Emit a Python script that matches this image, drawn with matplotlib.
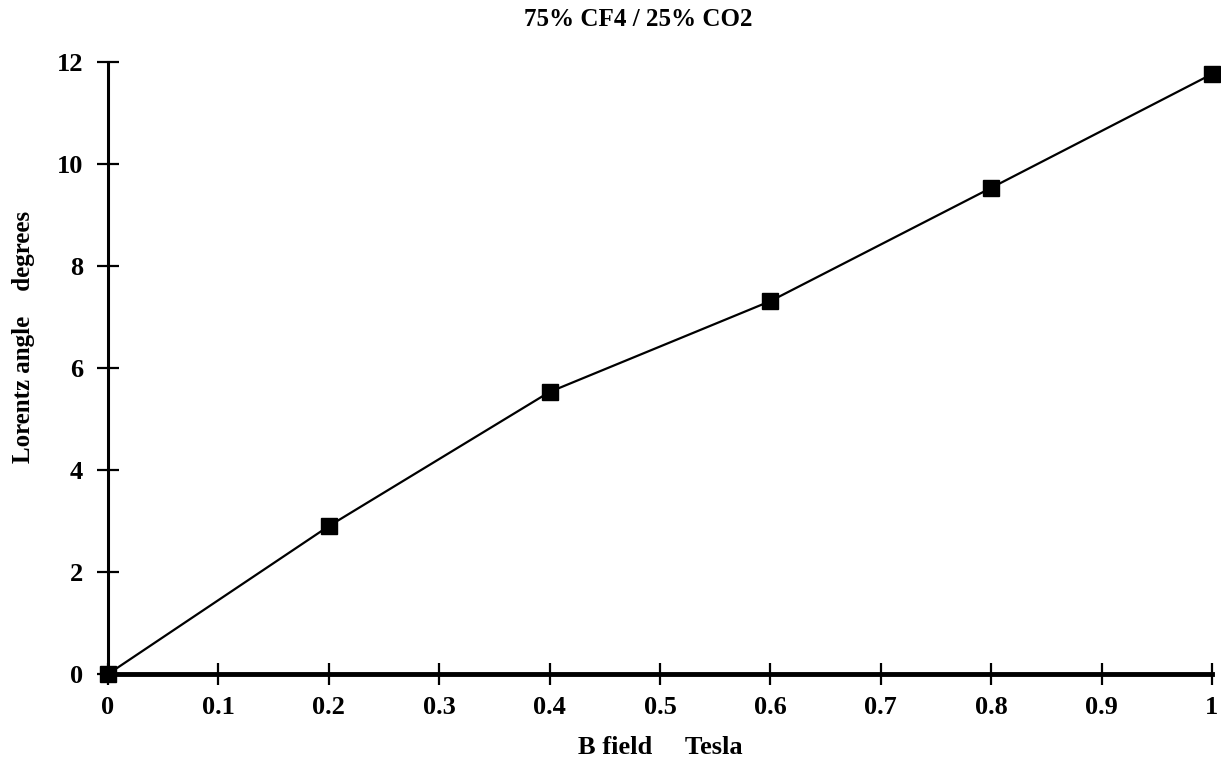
import matplotlib
matplotlib.use("Agg")
import matplotlib.pyplot as plt

b_field = [0.0, 0.2, 0.4, 0.6, 0.8, 1.0]
lorentz_angle = [0.0, 2.9, 5.53, 7.31, 9.53, 11.76]
x_ticks = [0, 0.1, 0.2, 0.3, 0.4, 0.5, 0.6, 0.7, 0.8, 0.9, 1]
x_tick_labels = ["0", "0.1", "0.2", "0.3", "0.4", "0.5", "0.6", "0.7", "0.8", "0.9", "1"]
y_ticks = [0, 2, 4, 6, 8, 10, 12]
y_tick_labels = ["0", "2", "4", "6", "8", "10", "12"]

plt.rcParams['font.family'] = ['Liberation Serif', 'DejaVu Serif']
plt.rcParams['font.weight'] = 'bold'

fig = plt.figure(figsize=(12.21, 7.73), dpi=100)
ax = fig.add_axes([0.0885, 0.128, 0.9041, 0.792])
ax.plot(b_field, lorentz_angle, color='black', linewidth=1.6, marker='s',
        markersize=11, markerfacecolor='black', markeredgecolor='black', clip_on=False, zorder=3)
ax.set_xlim(0, 1)
ax.set_ylim(0, 12)
ax.set_xticks(x_ticks)
ax.set_xticklabels(x_tick_labels)
ax.set_yticks(y_ticks)
ax.set_yticklabels(y_tick_labels)
for s in ['top', 'right']:
    ax.spines[s].set_visible(False)
ax.spines['bottom'].set_linewidth(3.5)
ax.spines['left'].set_linewidth(2.2)
ax.tick_params(axis='both', direction='inout', length=16, width=1.6, labelsize=19, colors='black')
ax.tick_params(axis='x', pad=8)
ax.tick_params(axis='y', pad=10)
for lbl in ax.get_xticklabels() + ax.get_yticklabels():
    lbl.set_fontweight('bold')
ax.set_xlabel("B field     Tesla", fontsize=19, fontweight='bold', labelpad=12)
ax.set_ylabel("Lorentz angle    degrees", fontsize=18, fontweight='bold')
ax.yaxis.set_label_coords(-0.066, 0.55)
fig.text(0.523, 0.975, "75% CF4 / 25% CO2", ha='center', va='center', fontsize=18, fontweight='bold')
fig.savefig("out.png", dpi=100, facecolor='white')
